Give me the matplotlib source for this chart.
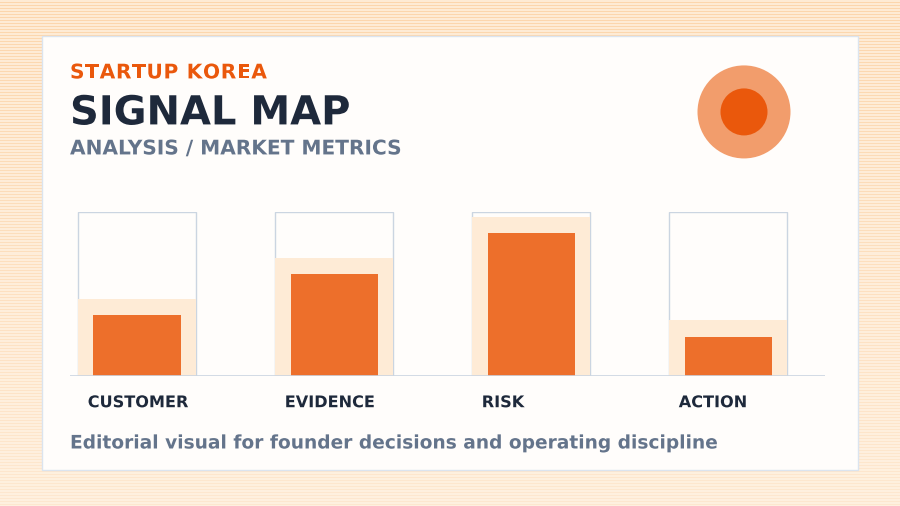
import numpy as np
import matplotlib
matplotlib.use('Agg')
import matplotlib.pyplot as plt
import matplotlib.patheffects as pe
from matplotlib.patches import Rectangle, Circle

plt.rcParams['font.family'] = ['DejaVu Sans']

# data
categories = ['CUSTOMER', 'EVIDENCE', 'RISK', 'ACTION']
signal = [37, 62, 87, 24]
band = [47, 72, 97, 34]
frame = [100, 100, 100, 100]

W, H = 900, 506
fig = plt.figure(figsize=(W / 100, H / 100 + 0.001), dpi=100)
renderer = fig.canvas.get_renderer()

# striped background
bg = fig.add_axes([0, 0, 1, 1])
bg.set_xlim(0, W)
bg.set_ylim(H, 0)
bg.axis('off')
rows = np.arange(H)
top_c = np.array([252, 214, 172]) / 255
bot_c = np.array([254, 232, 208]) / 255
light = np.array([255, 244, 230]) / 255
t = (rows / H)[:, None]
stripe = top_c * (1 - t) + bot_c * t
img = np.where((rows % 3 == 0)[:, None], stripe, light * 0.7 + stripe * 0.3)
bg.imshow(img[:, None, :], extent=(0, W, H, 0), aspect='auto', interpolation='nearest')

# card
bg.add_patch(Rectangle((42, 36), 816, 434, facecolor='#fffdfb', edgecolor='#dbe4ef', linewidth=1))

# badge
bg.add_patch(Circle((744, 112), 46.5, facecolor='#f29d6c', edgecolor='none'))
bg.add_patch(Circle((744, 112), 23.5, facecolor='#ea580c', edgecolor='none'))

as_path = [pe.Normal()]


def spaced_text(x0, y, s, spacing, color, **kw):
    # letter by letter, with extra tracking in pixels
    a = bg.text(0, 0, 'aa', **kw)
    b = bg.text(0, 0, 'a a', **kw)
    space_w = b.get_window_extent(renderer).width - a.get_window_extent(renderer).width
    a.remove()
    b.remove()
    x = x0
    for ch in s:
        if ch == ' ':
            x += space_w + spacing
            continue
        t = bg.text(x, y, ch, va='center', ha='left', color=color,
                    path_effects=as_path, **kw)
        x += t.get_window_extent(renderer).width + spacing


# headings
spaced_text(70, 73, 'STARTUP KOREA', 0.65, '#ea580c', fontsize=14.5, fontweight='bold')
bg.text(70, 113.5, 'SIGNAL MAP', color='#1e293b', fontsize=28.8, fontweight='bold',
        va='center', ha='left', path_effects=as_path)
bg.text(70, 149, 'ANALYSIS / MARKET METRICS', color='#64748b', fontsize=14.5, fontweight='bold',
        va='center', ha='left', path_effects=as_path)
bg.text(70, 443, 'Editorial visual for founder decisions and operating discipline',
        color='#64748b', fontsize=13.4, fontweight='bold', va='center', ha='left',
        path_effects=as_path)

# bar chart
ax = fig.add_axes([70 / W, (H - 376) / H, 755 / W, 164 / H])
ax.patch.set_visible(False)
ax.set_xlim(-67 / 197, 3 + 97 / 197)
ax.set_ylim(0, 100)
x = np.arange(len(categories))
ax.bar(x, frame, width=118 / 197, color='none', edgecolor='#cbd5e1', linewidth=1)
ax.bar(x, band, width=118 / 197, color='#feebd6', edgecolor='none')
ax.bar(x, signal, width=87 / 197, color='#ed6f2b', edgecolor='none')
ax.axhline(0, color='#cbd5e1', linewidth=1.2)
for i, c in enumerate(categories):
    ax.text(i - 0.25, -16.3, c, color='#1e293b', fontsize=11.6, fontweight='bold',
            ha='left', va='center', clip_on=False, path_effects=as_path)
for s in ax.spines.values():
    s.set_visible(False)
ax.set_xticks([])
ax.set_yticks([])

fig.savefig('out.png', dpi=100)
